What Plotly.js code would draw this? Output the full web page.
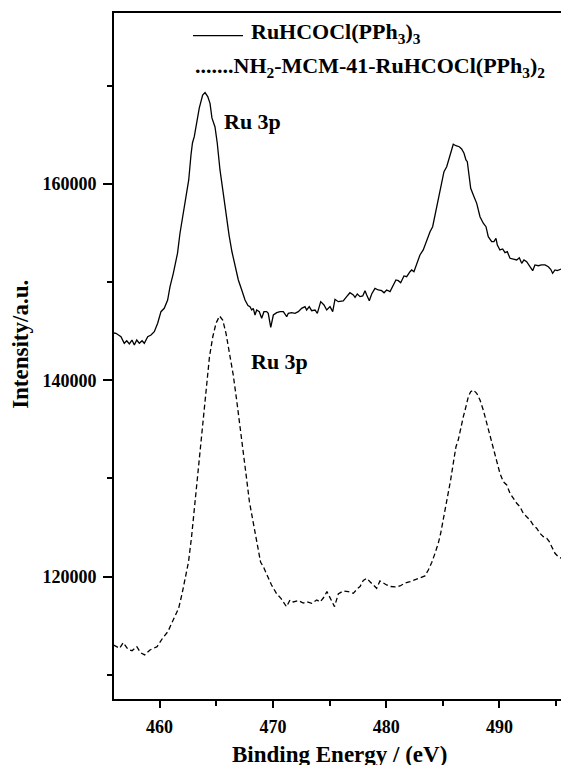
<!DOCTYPE html>
<html>
<head>
<meta charset="utf-8">
<script src="https://cdn.plot.ly/plotly-3.0.1.min.js"></script>
<style>html,body{margin:0;padding:0;background:#fff;}#chart{width:561px;height:765px;}</style>
</head>
<body>
<div id="chart"></div>
<script>
// Binding energy (eV) and intensity (a.u.)
const solidEnergy = [455.93,456.15,456.59,456.88,457.10,457.33,457.56,457.77,457.98,458.21,458.45,458.65,458.95,459.24,459.53,459.83,460.12,460.41,460.71,460.92,461.21,461.45,461.58,461.80,462.09,462.33,462.57,462.77,462.90,463.06,463.27,463.50,463.80,464.01,464.25,464.45,464.62,464.89,465.09,465.33,465.62,465.92,466.13,466.39,466.65,466.95,467.25,467.54,467.80,467.98,468.13,468.27,468.42,468.57,468.80,469.01,469.21,469.45,469.59,469.81,470.04,470.34,470.63,470.92,471.22,471.36,471.66,471.95,472.24,472.54,472.83,472.98,473.21,473.42,473.72,473.92,474.22,474.51,474.75,475.04,475.28,475.48,475.77,476.21,476.51,476.80,477.10,477.25,477.45,477.69,477.93,478.13,478.28,478.51,478.72,479.01,479.30,479.60,479.81,480.04,480.34,480.63,480.86,481.07,481.28,481.57,481.81,482.10,482.25,482.45,482.69,482.98,483.27,483.57,483.87,484.10,484.31,484.51,484.75,484.99,485.10,485.34,485.57,485.78,485.92,486.16,486.45,486.66,486.87,487.04,487.16,487.33,487.46,487.69,487.99,488.28,488.57,488.81,489.01,489.31,489.51,489.69,489.81,490.04,490.28,490.49,490.69,490.93,491.22,491.52,491.75,491.96,492.16,492.40,492.69,492.93,493.13,493.42,493.72,494.02,494.31,494.52,494.69,494.90,495.10,495.34,495.47];
const solidIntensity = [144820,144790,144440,143770,144030,143700,144100,143590,144100,143770,144030,143770,144440,144610,144950,145810,146990,147330,148180,149540,150900,152260,152940,154980,157010,158710,160410,162960,164180,164820,166320,167740,169070,169320,168900,168220,166730,165810,164150,161430,159050,156330,154800,153070,151570,150220,149200,148180,147620,147500,147160,147330,146650,147160,146990,146320,146990,146990,146820,145400,146650,146890,146990,146990,146480,146820,146890,146820,146990,147330,147500,147160,147500,147090,147160,146820,148010,147670,147160,147500,146990,148250,148010,148080,148520,148920,148690,148450,148790,148520,148590,149130,148690,148110,148790,149370,149200,149130,148920,149200,149030,149710,150220,150150,149940,150630,150550,151060,151240,151060,151920,152770,153280,154290,155140,155650,156840,158030,159390,160740,161250,161760,162780,163640,164050,163900,163800,163570,163130,162450,162270,160740,159560,158880,158030,156670,156000,155650,154630,154120,154120,154470,153780,153280,153380,153000,153100,152430,152330,152260,152490,151920,152260,152080,151570,151170,151750,151670,151750,151750,151570,151310,150900,151240,151170,151310,151340];

const dashedEnergy = [455.93,456.15,456.47,456.79,457.20,457.57,457.99,458.31,458.68,459.15,459.78,460.26,460.73,461.20,461.68,461.99,462.30,462.55,462.82,463.04,463.26,463.48,463.70,463.92,464.14,464.40,464.69,464.98,465.29,465.57,465.86,466.21,466.50,466.80,467.10,467.36,467.67,467.93,468.22,468.55,468.91,469.17,469.48,469.88,470.34,470.71,471.20,471.51,471.80,472.24,472.68,472.98,473.42,473.87,474.16,474.45,474.77,475.04,475.44,475.77,476.21,476.65,477.10,477.47,477.69,477.98,478.28,478.57,478.86,479.16,479.45,479.74,480.04,480.34,480.78,481.22,481.66,482.10,482.54,482.98,483.42,483.72,484.02,484.31,484.60,484.81,485.04,485.28,485.48,485.69,485.92,486.16,486.36,486.58,486.81,487.04,487.25,487.46,487.69,487.99,488.28,488.57,488.87,489.16,489.45,489.75,490.04,490.34,490.64,490.93,491.22,491.52,491.81,492.10,492.40,492.69,492.98,493.28,493.57,493.87,494.17,494.40,494.61,494.90,495.19,495.47];
const dashedIntensity = [113020,112850,112690,113260,112590,112440,112850,112240,112010,112520,112850,113710,114380,115570,116760,118290,120160,121480,124030,126580,129330,132080,134930,137480,139820,142370,144410,145810,146550,146140,144790,142580,140540,137990,135440,132900,130040,127600,125760,123520,121480,120970,120160,119140,118220,117780,116930,117610,117410,117560,117300,117440,117270,117610,117410,117810,118460,117780,116930,118220,118530,118460,118290,118780,118970,119600,119820,119470,119140,118800,119550,119310,119140,118990,118940,119040,119340,119470,119650,119850,120060,120670,121430,122370,123390,124410,125760,127120,128480,129840,131540,133230,133910,135270,136290,137310,138330,138840,139010,138670,137990,136970,135620,134250,132900,131540,130520,129660,129330,128480,127970,127460,127120,126450,126100,125760,125250,124920,124410,124060,123900,123550,123040,122370,122020,121860];

const xTickVals = [460, 470, 480, 490];
const xTickText = ['460', '470', '480', '490'];
const yTickVals = [120000, 140000, 160000];
const yTickText = ['120000', '140000', '160000'];

const legendLabels = ['RuHCOCl(PPh<sub>3</sub>)<sub>3</sub>', '.......NH<sub>2</sub>-MCM-41-RuHCOCl(PPh<sub>3</sub>)<sub>2</sub>'];
const peakLabel = 'Ru 3p';
const peakLabelPos = [[468.24, 166350], [470.6, 141890]];
const xTitle = 'Binding Energy / (eV)';
const yTitle = 'Intensity/a.u.';

const FONT = "'Liberation Serif', 'Times New Roman', serif";

const traces = [
  {x: solidEnergy, y: solidIntensity, type: 'scatter', mode: 'lines',
   line: {color: '#000', width: 1.3}, hoverinfo: 'skip'},
  {x: dashedEnergy, y: dashedIntensity, type: 'scatter', mode: 'lines',
   line: {color: '#000', width: 1.3, dash: '5px,3px'}, hoverinfo: 'skip'}
];

const annotations = [
  {xref: 'paper', yref: 'paper', x: 0.302, y: 0.9708, xanchor: 'left', yanchor: 'middle',
   text: legendLabels[0], showarrow: false, font: {family: FONT, size: 22, weight: 'bold', color: '#000'}},
  {xref: 'paper', yref: 'paper', x: 0.1767, y: 0.9206, xanchor: 'left', yanchor: 'middle',
   text: legendLabels[1], showarrow: false, font: {family: FONT, size: 22, weight: 'bold', color: '#000'}},
  {xref: 'x', yref: 'y', x: peakLabelPos[0][0], y: peakLabelPos[0][1], text: peakLabel, showarrow: false,
   font: {family: FONT, size: 22, weight: 'bold', color: '#000'}},
  {xref: 'x', yref: 'y', x: peakLabelPos[1][0], y: peakLabelPos[1][1], text: peakLabel, showarrow: false,
   font: {family: FONT, size: 22, weight: 'bold', color: '#000'}},
  {xref: 'paper', yref: 'paper', x: -0.2094, y: 0.5168, textangle: -90, text: yTitle, showarrow: false,
   xanchor: 'center', yanchor: 'middle', font: {family: FONT, size: 23, weight: 'bold', color: '#000'}},
  {xref: 'paper', yref: 'paper', x: 0.5034, y: -0.0806, text: xTitle, showarrow: false,
   xanchor: 'center', yanchor: 'middle', font: {family: FONT, size: 23, weight: 'bold', color: '#000'}}
];

const shapes = [
  {type: 'line', xref: 'paper', yref: 'paper', x0: 0.1767, x1: 0.2886, y0: 0.9669, y1: 0.9669,
   line: {color: '#000', width: 1.3}}
];

const layout = {
  width: 561, height: 765,
  margin: {l: 114, r: 0, t: 13, b: 66, pad: 0},
  paper_bgcolor: '#fff', plot_bgcolor: '#fff',
  showlegend: false,
  xaxis: {
    range: [455.975, 495.43], showline: true, linewidth: 2, linecolor: '#000', mirror: true,
    ticks: 'outside', ticklen: 7, tickwidth: 2, tickcolor: '#000', ticklabelstandoff: 3,
    tickmode: 'array', tickvals: xTickVals, ticktext: xTickText,
    tickfont: {family: FONT, size: 18, weight: 'bold', color: '#000'},
    showgrid: false, zeroline: false,
    minor: {dtick: 5, tick0: 0, ticks: 'outside', ticklen: 5, tickwidth: 2, tickcolor: '#000', showgrid: false}
  },
  yaxis: {
    range: [107520, 177425], showline: true, linewidth: 2, linecolor: '#000', mirror: false,
    ticks: 'outside', ticklen: 9, tickwidth: 2, tickcolor: '#000', ticklabelstandoff: 3,
    tickmode: 'array', tickvals: yTickVals, ticktext: yTickText,
    tickfont: {family: FONT, size: 18, weight: 'bold', color: '#000'},
    showgrid: false, zeroline: false,
    minor: {dtick: 10000, tick0: 0, ticks: 'outside', ticklen: 5, tickwidth: 2, tickcolor: '#000', showgrid: false}
  },
  annotations: annotations,
  shapes: shapes
};

Plotly.newPlot('chart', traces, layout, {staticPlot: true, displayModeBar: false});
</script>
</body>
</html>
